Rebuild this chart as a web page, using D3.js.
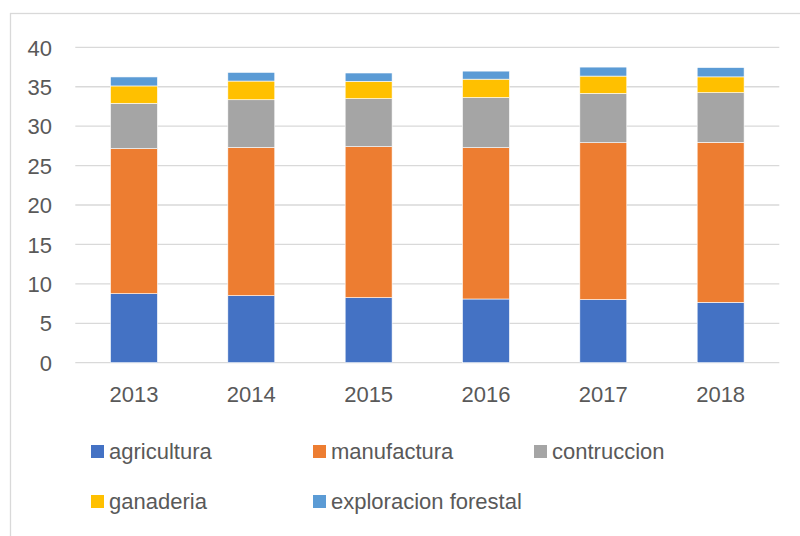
<!DOCTYPE html>
<html><head><meta charset="utf-8">
<script src="https://cdn.jsdelivr.net/npm/d3@7"></script>
<style>body{margin:0;background:#fff}svg{display:block}</style>
</head><body>
<svg id="c" width="800" height="536"></svg>
<script>
const years = ["2013","2014","2015","2016","2017","2018"];
const seriesNames = ["agricultura","manufactura","contruccion","ganaderia","exploracion forestal"];
const agricultura = [8.75, 8.5, 8.25, 8.08, 8.0, 7.65];
const manufactura = [18.4, 18.8, 19.15, 19.2, 19.9, 20.3];
const contruccion = [5.75, 6.05, 6.09, 6.35, 6.25, 6.3];
const ganaderia = [2.2, 2.37, 2.2, 2.33, 2.2, 2.0];
const exploracion = [1.14, 1.1, 1.05, 1.02, 1.14, 1.18];
const yTicks = [0,5,10,15,20,25,30,35,40];
const colors = ["#4472C4","#ED7D31","#A5A5A5","#FFC000","#5B9BD5"];

(function(){
const seriesValues = [agricultura, manufactura, contruccion, ganaderia, exploracion];
const table = years.map((yr,i)=>{const o={year:yr}; seriesNames.forEach((s,j)=>o[s]=seriesValues[j][i]); return o;});

const svg = d3.select("#c");
const font = "'Liberation Sans', Arial, sans-serif";
const textColor = "#595959";

svg.append("rect").attr("x",10.5).attr("y",13.5).attr("width",900).attr("height",900)
  .attr("fill","none").attr("stroke","#d9d9d9").attr("stroke-width",1.3);

const pl = 75.3, pr = 779.3, pt = 47.3, pb = 362.7;
const x = d3.scaleBand().domain(years).range([pl,pr]).paddingInner(0.6).paddingOuter(0.3);
const y = d3.scaleLinear().domain([0,40]).range([pb,pt]);

svg.append("g").selectAll("line").data(yTicks).join("line")
  .attr("x1",pl).attr("x2",pr).attr("y1",d=>y(d)).attr("y2",d=>y(d))
  .attr("stroke","#d9d9d9").attr("stroke-width",1.3);

const yAxis = d3.axisLeft(y).tickValues(yTicks).tickSize(0).tickPadding(0);
const gy = svg.append("g").attr("transform",`translate(52,0)`).call(yAxis);
gy.select(".domain").remove();
gy.selectAll("text").attr("font-family",font).attr("font-size",22).attr("fill",textColor).attr("dy","0.35em");

const stack = d3.stack().keys(seriesNames)(table);
svg.append("g").selectAll("g").data(stack).join("g").attr("fill",(d,i)=>colors[i])
  .selectAll("rect").data(d=>d).join("rect")
  .attr("x",d=>x(d.data.year)).attr("width",x.bandwidth())
  .attr("y",d=>y(d[1])).attr("height",d=>y(d[0])-y(d[1]))
  .attr("stroke","#ffffff").attr("stroke-width",0.6);

const xAxis = d3.axisBottom(x).tickSize(0).tickPadding(0);
const gx = svg.append("g").attr("transform",`translate(0,${pb})`).call(xAxis);
gx.select(".domain").remove();
gx.selectAll("text").attr("font-family",font).attr("font-size",22).attr("fill",textColor).attr("dy","0.35em").attr("y",32);

const legendPos = [[91,445],[313,445],[534,445],[91,495],[313,495]];
const lg = svg.append("g").selectAll("g").data(seriesNames).join("g")
  .attr("transform",(d,i)=>`translate(${legendPos[i][0]},${legendPos[i][1]})`);
lg.append("rect").attr("width",13).attr("height",13).attr("fill",(d,i)=>colors[i]);
lg.append("text").attr("x",18).attr("y",6.5).attr("dy","0.35em").text(d=>d)
  .attr("font-family",font).attr("font-size",22).attr("fill",textColor);
})();
</script>
</body></html>
